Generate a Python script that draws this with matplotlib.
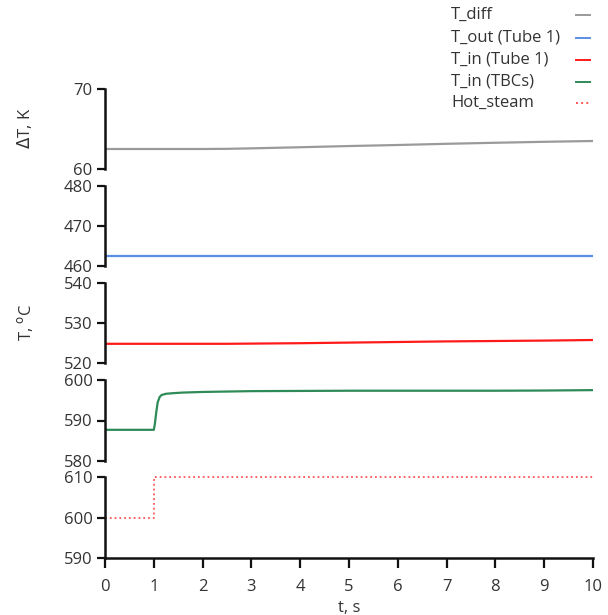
import matplotlib
matplotlib.use("Agg")
import matplotlib.pyplot as plt
from matplotlib.lines import Line2D

plt.rcParams['font.family'] = ['Open Sans', 'DejaVu Sans']
plt.rcParams['mathtext.fontset'] = 'dejavusans'

# ---- data ----
t = [0, 0.5, 1.0, 1.02, 1.05, 1.08, 1.12, 1.16, 1.25, 1.4, 1.6, 2, 2.5, 3, 4, 5, 6, 7, 8, 9, 10]
t_diff = [62.5, 62.5, 62.5, 62.5, 62.5, 62.5, 62.5, 62.5, 62.5, 62.5, 62.5, 62.5, 62.52,
          62.58, 62.72, 62.87, 63.0, 63.15, 63.28, 63.4, 63.5]
t_out_tube1 = [462.5] * 21
t_in_tube1 = [524.8, 524.8, 524.8, 524.8, 524.8, 524.8, 524.8, 524.8, 524.8, 524.8, 524.8,
              524.8, 524.8, 524.85, 524.95, 525.1, 525.25, 525.4, 525.5, 525.6, 525.75]
t_in_tbcs = [587.7, 587.7, 587.7, 589.0, 592.0, 594.5, 595.8, 596.3, 596.6, 596.75, 596.9,
             597.05, 597.15, 597.25, 597.3, 597.35, 597.35, 597.35, 597.35, 597.4, 597.5]
t_steam = [0, 1, 10]
hot_steam = [600, 610, 610]

labels = ['T_diff', 'T_out (Tube 1)', 'T_in (Tube 1)', 'T_in (TBCs)', 'Hot_steam']
colors = ['#9a9a9a', '#5b8fe6', '#ff1a1a', '#2e8b57', '#ff5555']

ylims = [(60, 70), (460, 480), (520, 540), (580, 600), (590, 610)]
yticks = [[60, 70], [460, 470, 480], [520, 530, 540], [580, 590, 600], [590, 600, 610]]

# ---- layout ----
W, H = 608, 615
fig = plt.figure(figsize=(W / 100, H / 100), dpi=100)
x0, x1 = 105 / W, 593 / W
panels_px = [(89, 169), (186, 266), (283, 363), (380, 461), (477, 558)]
axes = []
for (top, bot) in panels_px:
    ax = fig.add_axes([x0, 1 - bot / H, x1 - x0, (bot - top) / H])
    axes.append(ax)

txtc = '#333333'
series = [t_diff, t_out_tube1, t_in_tube1, t_in_tbcs]
for i, ax in enumerate(axes):
    if i < 4:
        ax.plot(t, series[i], color=colors[i], lw=1.6)
    else:
        ax.plot(t_steam, hot_steam, color=colors[i], lw=1.3, ls=':',
                drawstyle='steps-post', clip_on=False)
    ax.set_xlim(0, 10)
    ax.set_ylim(*ylims[i])
    ax.set_yticks(yticks[i])
    for s in ['top', 'right']:
        ax.spines[s].set_visible(False)
    ax.spines['left'].set_linewidth(1.8)
    ax.spines['left'].set_color('#111111')
    ax.tick_params(axis='y', direction='out', length=6, width=1.6, labelsize=12,
                   colors='#111111', labelcolor=txtc, pad=3)
    if i < 4:
        ax.spines['bottom'].set_visible(False)
        ax.set_xticks([])
    else:
        ax.spines['bottom'].set_linewidth(1.8)
        ax.spines['bottom'].set_color('#111111')
        ax.set_xticks(range(0, 11))
        ax.tick_params(axis='x', direction='out', length=7, width=1.6, labelsize=12,
                       colors='#111111', labelcolor=txtc, pad=8)
        ax.set_xlabel('t, s', fontsize=12, color=txtc, labelpad=4)
    ax.patch.set_alpha(0)

fig.text(25 / W, 1 - 128 / H, r'$\Delta$T, K', rotation=90, ha='center', va='center',
         fontsize=12, color=txtc)
fig.text(25 / W, 1 - 322 / H, r'T, $^{\rm o}$C', rotation=90, ha='center', va='center',
         fontsize=12, color=txtc)

# legend: text on the left, short line sample on the right
row_y = [15, 38, 60, 82, 103]
for k in range(5):
    yy = 1 - row_y[k] / H
    fig.text(451 / W, yy, labels[k], ha='left', va='center', fontsize=12, color=txtc)
    fig.add_artist(Line2D([576 / W, 590 / W], [yy, yy], transform=fig.transFigure,
                          color=colors[k], lw=1.4, ls='-' if k < 4 else ':'))

fig.savefig('out.png', dpi=100)
